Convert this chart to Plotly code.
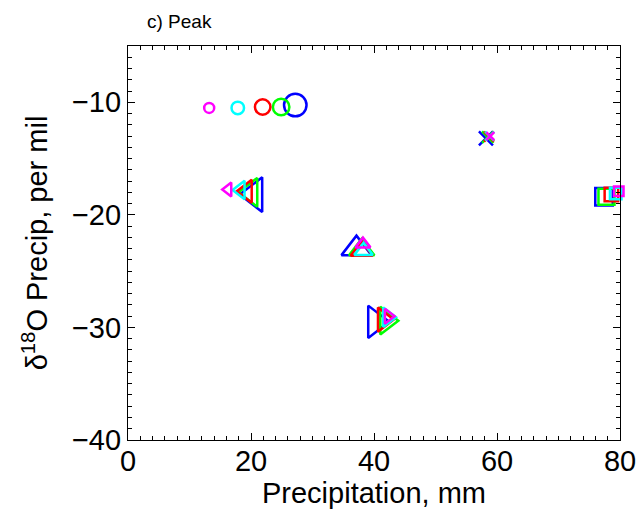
import plotly.graph_objects as go

# Series (one per colour), each with six points: circle, left-tri, x, up-tri, right-tri, square
series_names = ["blue", "green", "red", "cyan", "magenta"]
series_colors = ["#0000FF", "#00FF00", "#FF0000", "#00FFFF", "#FF00FF"]
shape_symbols = ["circle-open", "triangle-left-open", "x-thin-open",
                 "triangle-up-open", "triangle-right-open", "square-open"]

blue_x = [27.2, 20.6, 58.2, 37.15, 40.2, 77.4]
blue_y = [-10.25, -18.2, -13.2, -23.0, -29.5, -18.4]
green_x = [24.9, 20.0, 58.5, 38.0, 42.0, 77.8]
green_y = [-10.42, -18.0, -13.1, -23.1, -29.4, -18.4]
red_x = [21.9, 19.3, 58.7, 38.0, 41.5, 78.6]
red_y = [-10.42, -17.9, -13.05, -23.2, -29.3, -18.2]
cyan_x = [17.85, 18.3, 58.8, 38.3, 42.2, 79.3]
cyan_y = [-10.5, -17.8, -13.0, -23.2, -29.1, -18.1]
magenta_x = [13.2, 16.3, 58.9, 38.2, 42.3, 79.8]
magenta_y = [-10.5, -17.75, -13.0, -22.6, -29.0, -17.9]

blue_size = [22.5, 30, 14, 26, 28, 17.5]
green_size = [16.5, 25, 11.5, 22, 24, 16]
red_size = [15.5, 20, 10, 19, 21, 13.5]
cyan_size = [12.5, 16, 9, 16, 17, 11.5]
magenta_size = [10, 12, 8, 13, 13, 9.5]

xs = [blue_x, green_x, red_x, cyan_x, magenta_x]
ys = [blue_y, green_y, red_y, cyan_y, magenta_y]
sizes = [blue_size, green_size, red_size, cyan_size, magenta_size]

x_ticks = [0, 20, 40, 60, 80]
y_ticks = [-40, -30, -20, -10]

fig = go.Figure()
for name, col, x, y, s in zip(series_names, series_colors, xs, ys, sizes):
    fig.add_trace(go.Scatter(
        x=x, y=y, mode="markers", name=name, cliponaxis=False,
        marker=dict(symbol=shape_symbols, size=s, color=col, opacity=1,
                    line=dict(width=2.5, color=col)),
        showlegend=False,
    ))

font_family = "Liberation Sans, Arial, Helvetica, sans-serif"
axis_common = dict(
    showline=True, linecolor="black", linewidth=1.2, mirror="allticks",
    ticks="inside", ticklen=7, tickwidth=1.2, tickcolor="black",
    showgrid=False, zeroline=False,
    tickfont=dict(family=font_family, size=29, color="black"),
)

fig.update_xaxes(
    range=[0, 80], tickvals=x_ticks, ticktext=[str(v) for v in x_ticks],
    ticklabelstandoff=-5,
    minor=dict(ticks="inside", ticklen=4, dtick=2, tick0=0, tickcolor="black", tickwidth=1),
    title=dict(text="Precipitation, mm", font=dict(family=font_family, size=29, color="black"),
               standoff=4),
    **axis_common,
)
fig.update_yaxes(
    range=[-40, -5], tickvals=y_ticks, ticktext=["\u221240", "\u221230", "\u221220", "\u221210"],
    minor=dict(ticks="inside", ticklen=4, dtick=1, tick0=0, tickcolor="black", tickwidth=1),
    title=dict(text="\u03b4<sup>18</sup>O Precip, per mil",
               font=dict(family=font_family, size=29, color="black"), standoff=15),
    **axis_common,
)

fig.update_layout(
    width=640, height=522,
    margin=dict(l=128, r=20, t=46, b=82, autoexpand=False),
    paper_bgcolor="white", plot_bgcolor="white",
    title=dict(text="c) Peak", x=147 / 640, xanchor="left", xref="container",
           y=1 - 21 / 522, yanchor="middle", yref="container",
           font=dict(family=font_family, size=19, color="black")),
)

fig.write_html("out.html")
